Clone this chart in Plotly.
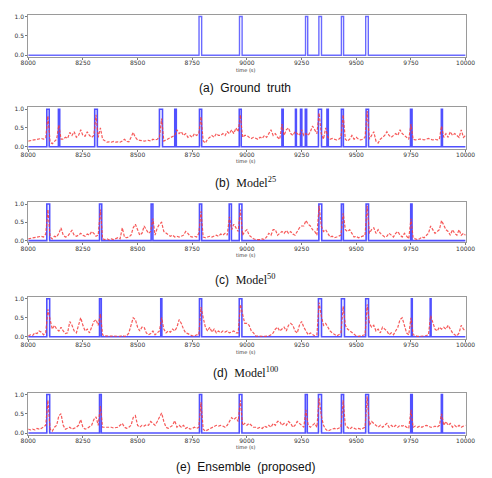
import plotly.graph_objects as go

W, H = 492, 478

time_s = list(range(8000, 10001, 10))
x_ticks = [8000, 8250, 8500, 8750, 9000, 9250, 9500, 9750, 10000]
y_ticks = [0.0, 0.5, 1.0]

gt_pulses = [(8781, 8793), (8966, 8978), (9268, 9278), (9329, 9341), (9432, 9442), (9543, 9555)]
pred25_pulses = [(8085, 8096), (8138, 8144), (8304, 8316), (8600, 8614), (8670, 8677), (8783, 8793),
                 (8965, 8974), (9160, 9166), (9222, 9226), (9245, 9251), (9267, 9273), (9327, 9341),
                 (9366, 9372), (9432, 9441), (9545, 9556), (9748, 9755), (9889, 9894)]
pred50_pulses = [(8085, 8098), (8326, 8336), (8562, 8570), (8783, 8793), (8919, 8929), (8965, 8977),
                 (9329, 9342), (9432, 9441), (9545, 9556), (9749, 9755)]
pred100_pulses = [(8085, 8098), (8326, 8334), (8606, 8611), (8783, 8793), (8965, 8977), (9327, 9341),
                  (9432, 9446), (9543, 9556), (9752, 9756), (9838, 9842)]
ens_pulses = [(8085, 8098), (8326, 8334), (8783, 8793), (8965, 8977), (9267, 9276), (9327, 9341),
              (9432, 9442), (9543, 9556), (9749, 9756), (9889, 9894)]

prob25 = [
    0.15, 0.16, 0.17, 0.19, 0.20, 0.21, 0.22, 0.20, 0.24, 0.82,
    0.12, 0.08, 0.15, 0.20, 0.58, 0.20, 0.20, 0.25, 0.22, 0.38,
    0.30, 0.40, 0.25, 0.30, 0.45, 0.30, 0.28, 0.40, 0.30, 0.25,
    0.30, 0.85, 0.25, 0.50, 0.20, 0.15, 0.12, 0.13, 0.12, 0.14,
    0.12, 0.13, 0.12, 0.15, 0.20, 0.14, 0.13, 0.25, 0.38, 0.25,
    0.18, 0.17, 0.15, 0.15, 0.16, 0.17, 0.15, 0.20, 0.18, 0.20,
    0.25, 0.75, 0.15, 0.18, 0.20, 0.22, 0.25, 0.30, 0.45, 0.35,
    0.40, 0.30, 0.35, 0.25, 0.30, 0.25, 0.35, 0.30, 0.35, 0.80,
    0.15, 0.10, 0.20, 0.25, 0.30, 0.25, 0.35, 0.30, 0.30, 0.35,
    0.30, 0.40, 0.35, 0.45, 0.35, 0.50, 0.40, 0.85, 0.25, 0.30,
    0.30, 0.25, 0.22, 0.25, 0.22, 0.20, 0.25, 0.22, 0.30, 0.25,
    0.35, 0.45, 0.30, 0.35, 0.25, 0.20, 0.60, 0.30, 0.45, 0.50,
    0.35, 0.30, 0.40, 0.35, 0.30, 0.45, 0.30, 0.35, 0.30, 0.40,
    0.55, 0.45, 0.35, 0.90, 0.35, 0.20, 0.50, 0.25, 0.20, 0.22,
    0.20, 0.18, 0.20, 0.25, 0.85, 0.20, 0.15, 0.20, 0.30, 0.20,
    0.25, 0.20, 0.18, 0.20, 0.25, 0.95, 0.20, 0.30, 0.40, 0.15,
    0.10, 0.20, 0.25, 0.30, 0.40, 0.30, 0.25, 0.30, 0.35, 0.30,
    0.45, 0.35, 0.30, 0.25, 0.20, 0.60, 0.20, 0.18, 0.20, 0.20,
    0.20, 0.18, 0.20, 0.22, 0.20, 0.18, 0.20, 0.18, 0.20, 0.55,
    0.25, 0.35, 0.25, 0.40, 0.30, 0.35, 0.30, 0.25, 0.45, 0.25,
    0.30]

prob50 = [
    0.05, 0.06, 0.08, 0.07, 0.10, 0.09, 0.12, 0.10, 0.18, 0.85,
    0.10, 0.05, 0.12, 0.10, 0.20, 0.35, 0.15, 0.10, 0.12, 0.20,
    0.28, 0.15, 0.12, 0.15, 0.20, 0.15, 0.12, 0.18, 0.15, 0.25,
    0.20, 0.12, 0.15, 0.85, 0.05, 0.03, 0.05, 0.02, 0.05, 0.03,
    0.05, 0.08, 0.05, 0.35, 0.10, 0.08, 0.10, 0.15, 0.35, 0.45,
    0.30, 0.15, 0.20, 0.40, 0.30, 0.20, 0.25, 0.60, 0.15, 0.35,
    0.45, 0.50, 0.25, 0.20, 0.15, 0.12, 0.15, 0.10, 0.12, 0.10,
    0.12, 0.15, 0.25, 0.20, 0.12, 0.10, 0.12, 0.10, 0.20, 0.80,
    0.10, 0.08, 0.10, 0.12, 0.10, 0.12, 0.15, 0.12, 0.18, 0.15,
    0.20, 0.15, 0.65, 0.30, 0.45, 0.35, 0.25, 0.85, 0.15, 0.25,
    0.30, 0.15, 0.10, 0.05, 0.03, 0.02, 0.03, 0.05, 0.03, 0.10,
    0.20, 0.15, 0.30, 0.30, 0.15, 0.20, 0.25, 0.20, 0.28, 0.20,
    0.25, 0.18, 0.15, 0.25, 0.35, 0.40, 0.40, 0.55, 0.45, 0.40,
    0.30, 0.25, 0.15, 0.95, 0.40, 0.25, 0.30, 0.20, 0.10, 0.12,
    0.08, 0.10, 0.12, 0.15, 0.75, 0.30, 0.25, 0.30, 0.20, 0.10,
    0.12, 0.08, 0.10, 0.12, 0.15, 0.95, 0.20, 0.30, 0.35, 0.20,
    0.30, 0.20, 0.15, 0.10, 0.12, 0.20, 0.15, 0.10, 0.20, 0.25,
    0.15, 0.10, 0.20, 0.12, 0.05, 0.60, 0.08, 0.05, 0.03, 0.05,
    0.10, 0.08, 0.15, 0.20, 0.40, 0.30, 0.20, 0.25, 0.30, 0.55,
    0.40, 0.30, 0.25, 0.15, 0.30, 0.20, 0.15, 0.30, 0.15, 0.20,
    0.15]

prob100 = [
    0.02, 0.05, 0.03, 0.10, 0.08, 0.15, 0.12, 0.05, 0.10, 0.72,
    0.45, 0.20, 0.30, 0.20, 0.15, 0.25, 0.15, 0.08, 0.10, 0.40,
    0.30, 0.15, 0.10, 0.30, 0.50, 0.30, 0.15, 0.20, 0.10, 0.25,
    0.40, 0.45, 0.30, 0.60, 0.05, 0.02, 0.02, 0.01, 0.01, 0.02,
    0.01, 0.02, 0.01, 0.03, 0.01, 0.02, 0.10, 0.30, 0.50, 0.45,
    0.25, 0.15, 0.25, 0.25, 0.10, 0.05, 0.08, 0.15, 0.05, 0.10,
    0.15, 0.50, 0.20, 0.10, 0.15, 0.12, 0.20, 0.15, 0.25, 0.45,
    0.35, 0.20, 0.10, 0.08, 0.05, 0.02, 0.02, 0.05, 0.05, 0.78,
    0.50, 0.25, 0.15, 0.25, 0.12, 0.20, 0.10, 0.15, 0.10, 0.15,
    0.12, 0.15, 0.10, 0.12, 0.15, 0.10, 0.10, 0.85, 0.55, 0.35,
    0.35, 0.30, 0.15, 0.10, 0.02, 0.01, 0.01, 0.01, 0.01, 0.01,
    0.02, 0.05, 0.10, 0.20, 0.25, 0.15, 0.20, 0.25, 0.15, 0.30,
    0.35, 0.30, 0.15, 0.10, 0.30, 0.40, 0.25, 0.15, 0.05, 0.10,
    0.05, 0.02, 0.05, 0.90, 0.55, 0.30, 0.35, 0.25, 0.15, 0.10,
    0.05, 0.02, 0.05, 0.10, 0.80, 0.30, 0.20, 0.15, 0.12, 0.05,
    0.02, 0.01, 0.02, 0.03, 0.05, 0.85, 0.35, 0.25, 0.30, 0.15,
    0.20, 0.10, 0.25, 0.20, 0.15, 0.05, 0.10, 0.05, 0.15, 0.25,
    0.45, 0.50, 0.30, 0.10, 0.05, 0.50, 0.05, 0.02, 0.01, 0.01,
    0.01, 0.02, 0.03, 0.05, 0.55, 0.35, 0.20, 0.15, 0.25, 0.20,
    0.25, 0.20, 0.30, 0.20, 0.10, 0.05, 0.02, 0.10, 0.30, 0.20,
    0.15]

prob_ens = [
    0.10, 0.08, 0.10, 0.08, 0.12, 0.10, 0.12, 0.15, 0.20, 0.85,
    0.10, 0.05, 0.15, 0.20, 0.45, 0.50, 0.20, 0.10, 0.12, 0.15,
    0.10, 0.12, 0.15, 0.20, 0.35, 0.15, 0.10, 0.12, 0.15, 0.20,
    0.35, 0.42, 0.20, 0.70, 0.15, 0.15, 0.15, 0.15, 0.15, 0.13,
    0.15, 0.15, 0.20, 0.25, 0.15, 0.12, 0.15, 0.20, 0.40, 0.45,
    0.20, 0.15, 0.20, 0.18, 0.22, 0.20, 0.30, 0.25, 0.20, 0.30,
    0.40, 0.52, 0.30, 0.15, 0.12, 0.15, 0.20, 0.32, 0.15, 0.20,
    0.15, 0.20, 0.12, 0.15, 0.10, 0.12, 0.15, 0.12, 0.15, 0.80,
    0.10, 0.05, 0.08, 0.10, 0.12, 0.15, 0.20, 0.18, 0.20, 0.18,
    0.15, 0.20, 0.30, 0.40, 0.35, 0.40, 0.30, 0.85, 0.20, 0.25,
    0.20, 0.25, 0.20, 0.15, 0.15, 0.12, 0.15, 0.12, 0.18, 0.15,
    0.20, 0.15, 0.25, 0.20, 0.30, 0.30, 0.20, 0.25, 0.20, 0.30,
    0.25, 0.15, 0.20, 0.30, 0.25, 0.20, 0.15, 0.60, 0.20, 0.15,
    0.20, 0.25, 0.15, 0.90, 0.45, 0.20, 0.10, 0.05, 0.08, 0.10,
    0.12, 0.10, 0.12, 0.15, 0.85, 0.20, 0.15, 0.10, 0.15, 0.12,
    0.10, 0.12, 0.10, 0.12, 0.15, 0.95, 0.20, 0.30, 0.25, 0.20,
    0.15, 0.20, 0.15, 0.20, 0.25, 0.15, 0.20, 0.15, 0.20, 0.15,
    0.20, 0.18, 0.20, 0.15, 0.12, 0.60, 0.15, 0.18, 0.15, 0.18,
    0.15, 0.18, 0.20, 0.18, 0.15, 0.15, 0.18, 0.15, 0.20, 0.50,
    0.20, 0.30, 0.20, 0.25, 0.15, 0.20, 0.15, 0.20, 0.15, 0.18,
    0.20]

captions = [
    "(a)  Ground  truth",
    "(b)  <span style='font-family:Liberation Serif'>Model<sup>25</sup></span>",
    "(c)  <span style='font-family:Liberation Serif'>Model<sup>50</sup></span>",
    "(d)  <span style='font-family:Liberation Serif'>Model<sup>100</sup></span>",
    "(e)  Ensemble  (proposed)",
]

# pixel layout of each panel: (top, bottom, time-label y, caption y)
panels_px = [
    (12.7, 55.5, 68, 87),
    (106, 147.5, 160, 182),
    (201.5, 242, 255, 279),
    (296.7, 338.7, 352, 373),
    (393, 435.7, 448, 468),
]
x_left, x_right = 21, 475


def pulse_xy(pulses):
    xs, ys = [8000], [0]
    for a, b in pulses:
        xs += [a, a, b, b]
        ys += [0, 1, 1, 0]
    xs.append(10000)
    ys.append(0)
    return xs, ys


fig = go.Figure()
all_pulses = [gt_pulses, pred25_pulses, pred50_pulses, pred100_pulses, ens_pulses]
all_probs = [None, prob25, prob50, prob100, prob_ens]

annotations = []
for i in range(5):
    sfx = "" if i == 0 else str(i + 1)
    xa, ya = "x" + sfx, "y" + sfx
    px, py = pulse_xy(all_pulses[i])
    fig.add_trace(go.Scatter(
        x=px, y=py, mode="lines", xaxis=xa, yaxis=ya,
        line=dict(color="rgba(50,50,255,0.85)" if i else "rgba(80,80,255,0.85)",
                  width=1.6 if i else 1.4),
        showlegend=False, hoverinfo="skip"))
    if all_probs[i] is not None:
        fig.add_trace(go.Scatter(
            x=time_s, y=all_probs[i], mode="lines", xaxis=xa, yaxis=ya,
            line=dict(color="rgba(245,60,60,0.85)", width=1.2, dash="3px,1.5px"),
            showlegend=False, hoverinfo="skip"))
    top, bot, tl_y, cap_y = panels_px[i]
    axis_common = dict(showline=True, mirror=True, linecolor="#9a9a9a", linewidth=1,
                       showgrid=False, zeroline=False, ticks="outside", ticklen=2,
                       tickcolor="#777", tickwidth=0.8,
                       tickfont=dict(family="DejaVu Sans", size=6, color="#333"))
    fig.layout["xaxis" + sfx] = dict(
        domain=[x_left / W, x_right / W], range=[8000, 10000], anchor=ya,
        tickvals=x_ticks, ticktext=[str(v) for v in x_ticks], ticklabelstandoff=-2,
        **axis_common)
    fig.layout["yaxis" + sfx] = dict(
        domain=[1 - bot / H, 1 - top / H], range=[-0.05, 1.05], anchor=xa,
        tickvals=y_ticks, tickformat=".1f", **axis_common)
    annotations.append(dict(text="time (s)", x=247 / W, y=1 - tl_y / H, xref="paper", yref="paper",
                            showarrow=False, font=dict(family="DejaVu Sans", size=5, color="#333"),
                            xanchor="center", yanchor="middle"))
    annotations.append(dict(text=captions[i], x=246 / W, y=1 - cap_y / H, xref="paper", yref="paper",
                            showarrow=False, font=dict(family="Liberation Sans", size=12, color="#111"),
                            xanchor="center", yanchor="middle"))

fig.update_layout(width=W, height=H, margin=dict(l=0, r=0, t=0, b=0),
                  paper_bgcolor="white", plot_bgcolor="white", annotations=annotations)
fig.write_html("out.html")
